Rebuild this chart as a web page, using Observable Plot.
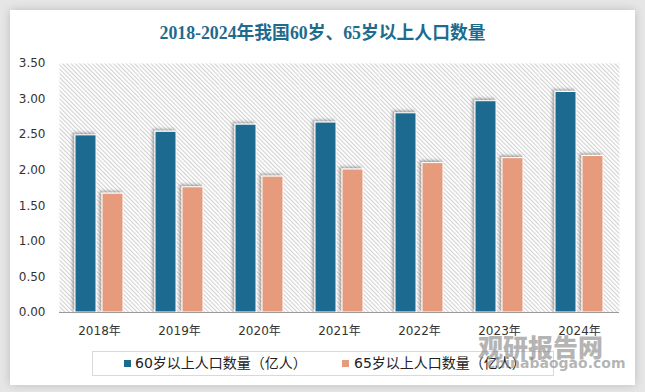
<!DOCTYPE html>
<html>
<head>
<meta charset="utf-8">
<script src="https://cdn.jsdelivr.net/npm/d3@7"></script>
<script src="https://cdn.jsdelivr.net/npm/@observablehq/plot@0.6"></script>
<style>
  html, body { margin: 0; padding: 0; }
  body { width: 645px; height: 392px; background: #e6e6e6; position: relative; overflow: hidden; font-family: "DejaVu Sans", "Noto Sans CJK SC", sans-serif; }
  #card { position: absolute; left: 10px; top: 10px; width: 625px; height: 375px; background: #fff; box-shadow: 0 0 9px rgba(0,0,0,0.18); }
  #title { position: absolute; left: 0; top: 12px; width: 625px; height: 22px; line-height: 22px; text-align: center; font-family: "Liberation Serif", "Noto Sans CJK SC", serif; font-weight: bold; font-size: 17.8px; color: #1e6b8e; }
  #chart { position: absolute; left: 0; top: 40px; }
  #legend { position: absolute; left: 82px; top: 341px; width: 460px; height: 23px; border: 1px solid #d9d9d9; }
  .item { position: absolute; top: 0; height: 23px; line-height: 23px; font-size: 14px; color: #222; font-family: "DejaVu Sans", "Noto Sans CJK SC", sans-serif; white-space: nowrap; }
  .sw { position: absolute; width: 7px; height: 7px; top: 8px; }
  #wm1 { position: absolute; left: 468px; top: 325px; line-height: 22px; height: 22px; font-family: "Noto Sans CJK SC", sans-serif; font-weight: 900; font-size: 25px; color: rgba(130,130,130,0.6); }
  #wm2 { position: absolute; left: 477px; top: 346px; line-height: 14px; height: 14px; font-family: "DejaVu Sans", sans-serif; font-weight: bold; font-size: 14px; color: rgba(130,130,130,0.6); }
</style>
</head>
<body>
<div id="card">
  <div id="title">2018-2024年我国60岁、65岁以上人口数量</div>
  <div id="chart"></div>
  <div id="legend"></div>
  <div id="wm1">观研报告网</div>
  <div id="wm2">chinabaogao.com</div>
</div>
<script>
const years = ["2018年", "2019年", "2020年", "2021年", "2022年", "2023年", "2024年"];
const seriesNames = ["60岁以上人口数量（亿人）", "65岁以上人口数量（亿人）"];
const pop60 = [2.49, 2.54, 2.64, 2.67, 2.80, 2.97, 3.10];
const pop65 = [1.67, 1.76, 1.91, 2.01, 2.10, 2.17, 2.20];
const yTicks = [0, 0.5, 1, 1.5, 2, 2.5, 3, 3.5];
const colors = ["#1c6b8f", "#e69c7c"];

const data = years.flatMap((y, i) => [
  {year: y, series: seriesNames[0], value: pop60[i]},
  {year: y, series: seriesNames[1], value: pop65[i]}
]);

const svg = Plot.plot({
  width: 625,
  height: 295,
  marginLeft: 49,
  marginRight: 16,
  marginTop: 13,
  marginBottom: 33,
  fx: {domain: years, padding: 0, label: null, tickSize: 0, tickPadding: 14, axis: "bottom"},
  x: {domain: seriesNames, axis: null, paddingInner: 0.2143, paddingOuter: 0.536},
  y: {domain: [0, 3.5], ticks: yTicks, tickFormat: d => d.toFixed(2), tickSize: 0, tickPadding: 14, label: null},
  color: {domain: seriesNames, range: colors},
  style: {fontFamily: "'DejaVu Sans', 'Noto Sans CJK SC', sans-serif", fontSize: "12px", color: "#333", background: "transparent", overflow: "visible"},
  marks: [
    Plot.frame({fill: "url(#hatch)", stroke: null}),
    Plot.barY(data, {fx: "year", x: "series", y: "value", fill: "series", stroke: "white", strokeWidth: 1}),
    Plot.ruleY([0], {stroke: "#9a9a9a", strokeWidth: 1})
  ]
});

const s = d3.select(svg);
s.insert("defs", ":first-child").html(`
  <pattern id="hatch" patternUnits="userSpaceOnUse" width="3" height="3" patternTransform="rotate(-45)">
    <rect width="3" height="3" fill="#ffffff"></rect>
    <rect width="1.1" height="3" fill="#d2d2d2"></rect>
  </pattern>
  <filter id="shadow" x="-30%" y="-10%" width="160%" height="120%">
    <feDropShadow dx="-2" dy="-1.5" stdDeviation="1.6" flood-color="#000" flood-opacity="0.35"></feDropShadow>
  </filter>`);
s.selectAll('g[aria-label="bar"]').attr("filter", "url(#shadow)");
document.getElementById("chart").appendChild(svg);

const legend = d3.select("#legend");
const pos = [{sw: 31, tx: 42}, {sw: 249, tx: 261}];
seriesNames.forEach((name, i) => {
  legend.append("div").attr("class", "sw").style("left", pos[i].sw + "px").style("background", colors[i]);
  legend.append("div").attr("class", "item").style("left", pos[i].tx + "px").text(name);
});
</script>
</body>
</html>
